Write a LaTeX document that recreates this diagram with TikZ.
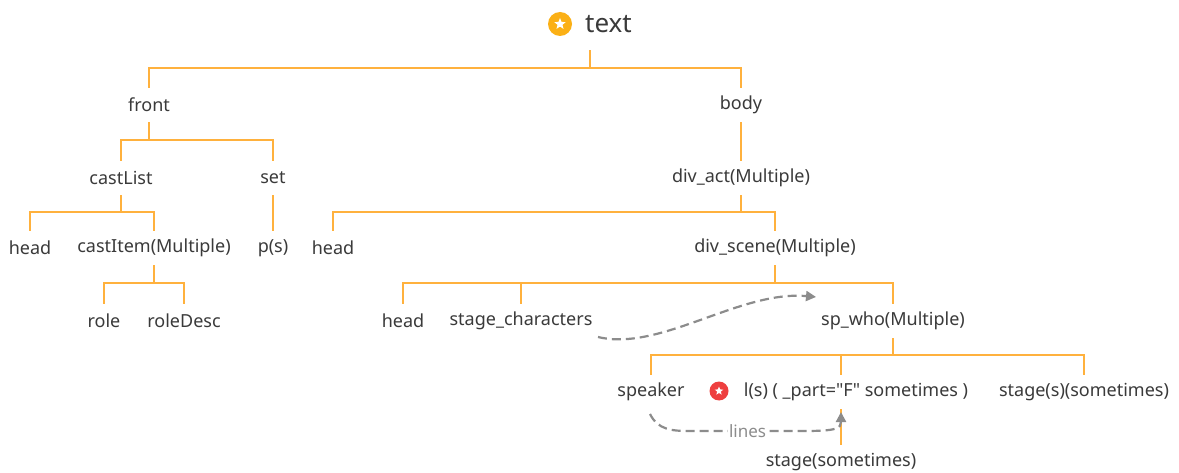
\documentclass[tikz,border=0pt]{standalone}
\usepackage{fontspec}
\setmainfont{Noto Sans}
\usetikzlibrary{arrows.meta,shapes.geometric}
\definecolor{branchc}{HTML}{FFB13D}
\definecolor{ink}{HTML}{3A3A3A}
\definecolor{linkc}{HTML}{8C8C8C}
\definecolor{goldicon}{HTML}{FBB016}
\definecolor{redicon}{HTML}{EE3F3F}

\begin{document}
\begin{tikzpicture}[x=1pt,y=-1pt,
  topic/.style={inner sep=0pt, minimum height=34pt, text=ink,
    font=\fontsize{18}{22}\selectfont},
  branch/.style={draw=branchc, line width=2.2pt},
  linkarrow/.style={draw=linkc, line width=2.2pt, dash pattern=on 9pt off 5pt,
    -{Triangle[length=10pt,width=10pt]}},
  badge/.style={circle, inner sep=0pt, minimum size=#1},
  starmark/.style={star, star points=5, star point ratio=2.3, fill=white,
    inner sep=0pt, minimum size=#1},
]
\useasboundingbox[fill=white] (0,0) rectangle (1179,473);

% ---- nodes ----
\node[topic, minimum height=52pt, font=\fontsize{26}{30}\selectfont] (title) at (590,24) {\hspace*{37pt}text};
\node[badge=24pt, fill=goldicon] (titleicon) at (560,24) {};
\node[starmark=12pt] at (titleicon) {};

\node[topic] (front) at (149,105) {front};
\node[topic] (body) at (741,105) {body};

\node[topic] (castList) at (121,178) {castList};
\node[topic] (set) at (273,178) {set};
\node[topic] (headA) at (30,248) {head};
\node[topic] (castItem) at (154,248) {castItem(Multiple)};
\node[topic] (ps) at (273,248) {p(s)};
\node[topic] (role) at (104,321) {role};
\node[topic] (roleDesc) at (184,321) {roleDesc};

\node[topic] (divact) at (741,178) {div\_act(Multiple)};
\node[topic] (headB) at (333,248) {head};
\node[topic] (divscene) at (775,248) {div\_scene(Multiple)};
\node[topic] (headC) at (403,321) {head};
\node[topic] (stagechar) at (521,321) {stage\_characters};
\node[topic] (spwho) at (893,321) {sp\_who(Multiple)};
\node[topic] (speaker) at (651,392) {speaker};
\node[topic] (ls) at (841,392) {\hspace*{30pt}l(s) ( \_part=\textquotedbl F\textquotedbl{} sometimes )};
\node[badge=19pt, fill=redicon] (lsicon) at (719,391) {};
\node[starmark=9pt] at (lsicon) {};
\node[topic] (stages) at (1084,392) {stage(s)(sometimes)};
\node[topic] (stage) at (841,462) {stage(sometimes)};

% ---- branch bars ----
\coordinate (titlebar) at (590,68);
\coordinate (frontbar) at (149,140);
\coordinate (castListbar) at (121,212);
\coordinate (castItembar) at (154,283);
\coordinate (divactbar) at (741,212);
\coordinate (divscenebar) at (775,283);
\coordinate (spwhobar) at (893,355);

\draw[branch] (title.south) -- (titlebar) -| (front.north);
\draw[branch] (titlebar) -| (body.north);

\draw[branch] (front.south) -- (frontbar) -| (castList.north);
\draw[branch] (frontbar) -| (set.north);

\draw[branch] (castList.south) -- (castListbar) -| (headA.north);
\draw[branch] (castListbar) -| (castItem.north);
\draw[branch] (set.south) -- (ps.north);

\draw[branch] (castItem.south) -- (castItembar) -| (role.north);
\draw[branch] (castItembar) -| (roleDesc.north);

\draw[branch] (body.south) -- (divact.north);
\draw[branch] (divact.south) -- (divactbar) -| (headB.north);
\draw[branch] (divactbar) -| (divscene.north);

\draw[branch] (divscene.south) -- (divscenebar) -| (headC.north);
\draw[branch] (divscenebar) -| (stagechar.north);
\draw[branch] (divscenebar) -| (spwho.north);

\draw[branch] (spwho.south) -- (spwhobar) -| (speaker.north);
\draw[branch] (spwhobar) -| (ls.north);
\draw[branch] (spwhobar) -| (stages.north);

\draw[branch] (ls.south) -- (stage.north);

% ---- cross links ----
\coordinate (scout) at (598,337);
\coordinate (spin) at (816,297);
\draw[linkarrow] (scout) .. controls (660,352) and (740,290) .. (spin);

\coordinate (spkout) at (650,414);
\coordinate (lsin) at (841,412);
\draw[linkarrow] (spkout) .. controls (658,430) and (672,431) .. (690,431)
  -- node[fill=white, inner sep=1pt, text=linkc, font=\fontsize{17}{20}\selectfont] {lines} (805,431)
  .. controls (838,431) and (841,428) .. (lsin);
\end{tikzpicture}
\end{document}
